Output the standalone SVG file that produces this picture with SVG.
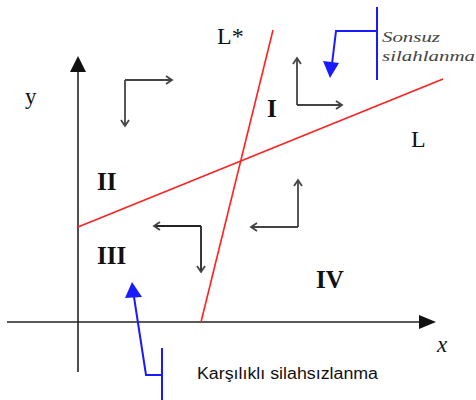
<svg xmlns="http://www.w3.org/2000/svg" width="476" height="400" viewBox="0 0 476 400">
<style>
.axis{stroke:#222;stroke-width:1.6;fill:none}
.red{stroke:#ff2020;stroke-width:1.6;fill:none}
.blue{stroke:#1a1aff;stroke-width:2;fill:none}
.bent{stroke:#444;stroke-width:1.8;fill:none;marker-end:url(#chev)}
.lbl{font-family:"Liberation Serif",serif;fill:#111}
.it{font-family:"Liberation Serif",serif;font-style:italic;font-size:15px;fill:#444}
.rom{font-family:"Liberation Serif",serif;font-weight:bold;font-size:25px;fill:#111}
</style>
<defs>
<marker id="chev" markerWidth="12" markerHeight="12" refX="9" refY="5" orient="auto" markerUnits="userSpaceOnUse">
<path d="M3,1 L9,5 L3,9" fill="none" stroke="#444" stroke-width="1.8"/>
</marker>
</defs>
<rect width="476" height="400" fill="#fff"/>
<g id="axes">
<line class="axis" x1="78" y1="70" x2="78" y2="372"/>
<polygon points="78,56 70,72 86,72" fill="#111"/>
<line class="axis" x1="7" y1="322" x2="420" y2="322"/>
<polygon points="436,322 419,315 419,329" fill="#111"/>
</g>
<g id="lines">
<line class="red" x1="78" y1="227" x2="443" y2="79"/>
<line class="red" x1="201" y1="322" x2="273" y2="30"/>
</g>
<g id="connectors">
<path class="bent" d="M125,80 H172"/>
<path class="bent" d="M125,80 V126"/>
<path class="bent" d="M297,105 V58"/>
<path class="bent" d="M297,105 H342"/>
<path class="bent" d="M201,226 H154" style="stroke:#222"/>
<path class="bent" d="M201,226 V272" style="stroke:#222"/>
<path class="bent" d="M298,227 V180"/>
<path class="bent" d="M298,227 H251"/>
</g>
<g id="sonsuz">
<line class="blue" x1="377" y1="7" x2="377" y2="80"/>
<path class="blue" d="M377,31 H336 L332,64"/>
<polygon points="330,78 323,61 339,63" fill="#1a1aff"/>
<text class="it" x="382" y="42" textLength="58" lengthAdjust="spacingAndGlyphs">Sonsuz</text>
<text class="it" x="382" y="61" textLength="93" lengthAdjust="spacingAndGlyphs">silahlanma</text>
</g>
<g id="karsilikli">
<line class="blue" x1="162" y1="348" x2="162" y2="400"/>
<path class="blue" d="M162,375 H146 L134,297"/>
<polygon points="132,282 125,298 142,297" fill="#1a1aff"/>
<text x="197" y="379" font-family="Liberation Sans,Arial,sans-serif" font-size="16" fill="#111" textLength="181" lengthAdjust="spacingAndGlyphs">Karşılıklı silahsızlanma</text>
</g>
<g id="labels">
<text class="lbl" x="25" y="104" font-size="23">y</text>
<text class="lbl" x="217" y="44" font-size="24">L*</text>
<text class="lbl" x="411" y="147" font-size="24">L</text>
<text class="lbl" x="437" y="352" font-size="23" font-style="italic">x</text>
<text class="rom" x="267" y="117">I</text>
<text class="rom" x="97" y="190">II</text>
<text class="rom" x="97" y="264">III</text>
<text class="rom" x="316" y="288">IV</text>
</g>
</svg>
